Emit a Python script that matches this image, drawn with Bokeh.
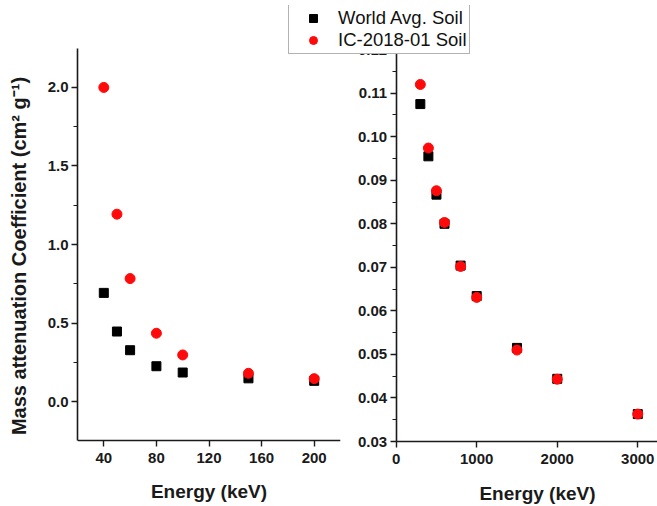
from bokeh.plotting import figure
from bokeh.layouts import row
from bokeh.models import (FixedTicker, PrintfTickFormatter, Legend, LegendItem, Range1d, Label)
from bokeh.embed import file_html
from bokeh.resources import INLINE

# ---- data ----
energy_low = [40, 50, 60, 80, 100, 150, 200]
world_low = [0.692, 0.446, 0.327, 0.225, 0.185, 0.148, 0.132]
ic_low = [2.000, 1.193, 0.783, 0.435, 0.297, 0.180, 0.146]

energy_high = [300, 400, 500, 600, 800, 1000, 1500, 2000, 3000]
world_high = [0.1075, 0.0955, 0.0867, 0.0800, 0.0704, 0.0634, 0.0515, 0.0444, 0.0363]
ic_high = [0.1120, 0.0974, 0.0876, 0.0803, 0.0702, 0.0631, 0.0510, 0.0443, 0.0363]

low_xticks = [40, 80, 120, 160, 200]
low_yticks = [0.0, 0.5, 1.0, 1.5, 2.0]
low_yminor = [0.25, 0.75, 1.25, 1.75]
high_xticks = [0, 1000, 2000, 3000]
high_yticks = [0.03, 0.04, 0.05, 0.06, 0.07, 0.08, 0.09, 0.10, 0.11, 0.12]
high_yminor = [0.035, 0.045, 0.055, 0.065, 0.075, 0.085, 0.095, 0.105, 0.115]

series_names = ["World Avg. Soil", "IC-2018-01 Soil"]
series_colors = ["#000000", "#ff0a0a"]
x_title = "Energy (keV)"
y_title = "Mass attenuation Coefficient (cm\u00b2 g\u207b\u00b9)"

FONT = "Liberation Sans"
AX = "#1a1a1a"


def style_axes(p, tick_size):
    p.outline_line_color = None
    p.xgrid.visible = False
    p.ygrid.visible = False
    for ax in (p.xaxis[0], p.yaxis[0]):
        ax.axis_line_color = AX
        ax.axis_line_width = 1.6
        ax.major_tick_line_color = AX
        ax.major_tick_line_width = 1.4
        ax.minor_tick_line_color = AX
        ax.minor_tick_line_width = 1.2
        ax.major_tick_in = 0
        ax.major_tick_out = 6
        ax.minor_tick_in = 0
        ax.minor_tick_out = 4
        ax.major_label_text_font = FONT
        ax.major_label_text_font_style = "bold"
        ax.major_label_text_font_size = tick_size
        ax.major_label_text_color = AX
        ax.axis_label_text_font = FONT
        ax.axis_label_text_font_style = "bold"
        ax.axis_label_text_font_size = "19px"
        ax.axis_label_text_color = AX
    p.xaxis[0].major_label_standoff = 6
    p.xaxis[0].axis_label_standoff = 15
    p.yaxis[0].major_label_standoff = 3
    p.yaxis[0].axis_label_standoff = 15


# ---- left panel (frame spans the full height; x axis fixed at y = -0.25) ----
p1 = figure(width=345, height=506, output_backend="svg", toolbar_location=None,
            x_range=Range1d(20, 220), y_range=Range1d(-0.668, 2.5216),
            min_border_left=77, min_border_right=5, min_border_top=5, min_border_bottom=0)
p1.border_fill_color = "white"
p1.background_fill_color = "white"
style_axes(p1, "15px")
p1.xaxis[0].ticker = FixedTicker(ticks=low_xticks, minor_ticks=[])
p1.xaxis[0].fixed_location = -0.25
p1.xaxis[0].axis_label = x_title
p1.yaxis[0].ticker = FixedTicker(ticks=low_yticks, minor_ticks=low_yminor)
p1.yaxis[0].formatter = PrintfTickFormatter(format="%.1f")
p1.yaxis[0].bounds = (-0.25, 2.25)
p1.yaxis[0].axis_label = y_title
p1.yaxis[0].axis_label_text_font_size = "20px"

p1.scatter(energy_low, world_low, marker="square", size=9,
           fill_color=series_colors[0], line_color=series_colors[0])
p1.scatter(energy_low, ic_low, marker="circle", size=10,
           fill_color=series_colors[1], line_color=series_colors[1])

# ---- right panel (frame also covers the legend area; axes fixed inside it) ----
p2 = figure(width=369, height=506, output_backend="svg", toolbar_location=None,
            x_range=Range1d(-1337, 3245), y_range=Range1d(0.015071, 0.13014),
            min_border_left=0, min_border_right=0, min_border_top=5, min_border_bottom=0)
p2.border_fill_alpha = 0
p2.background_fill_alpha = 0
style_axes(p2, "15px")
p2.xaxis[0].ticker = FixedTicker(ticks=high_xticks, minor_ticks=[])
p2.xaxis[0].fixed_location = 0.03
p2.xaxis[0].bounds = (0, 3500)
p2.yaxis[0].ticker = FixedTicker(ticks=high_yticks, minor_ticks=high_yminor)
p2.yaxis[0].formatter = PrintfTickFormatter(format="%.2f")
p2.yaxis[0].fixed_location = 0
p2.yaxis[0].bounds = (0.03, 0.12)

r1 = p2.scatter(energy_high, world_high, marker="square", size=9,
                fill_color=series_colors[0], line_color=series_colors[0])
r2 = p2.scatter(energy_high, ic_high, marker="circle", size=10,
                fill_color=series_colors[1], line_color=series_colors[1])

p2.add_layout(Label(x=1755, y=0.01806, text=x_title, text_align="center",
                    text_baseline="middle", text_font=FONT, text_font_style="bold",
                    text_font_size="19px", text_color=AX))

legend = Legend(items=[LegendItem(label=series_names[0], renderers=[r1]),
                       LegendItem(label=series_names[1], renderers=[r2])],
                location=(0, 452), margin=0, padding=2, spacing=0,
                glyph_width=44, glyph_height=20, label_height=20, label_standoff=3,
                label_text_font=FONT, label_text_font_size="18.5px", label_text_color="#111111",
                border_line_color="#666666", border_line_width=1,
                background_fill_color="white", background_fill_alpha=1)
p2.add_layout(legend)
p2.margin = (0, 0, 0, -57)

layout = row(p1, p2)
open("out.html", "w").write(file_html(layout, INLINE))
